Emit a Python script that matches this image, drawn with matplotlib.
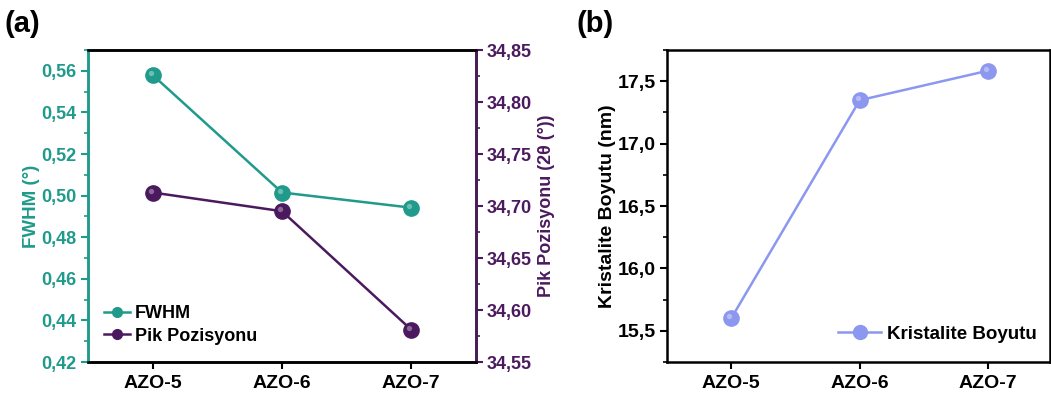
import matplotlib.pyplot as plt
import matplotlib.transforms as mtransforms
from matplotlib.ticker import MultipleLocator, FuncFormatter
from matplotlib.lines import Line2D

plt.rcParams['font.family'] = ['Liberation Sans', 'DejaVu Sans']
plt.rcParams['font.weight'] = 'bold'

samples = ["AZO-5", "AZO-6", "AZO-7"]
fwhm = [0.558, 0.5015, 0.4942]
pik = [34.713, 34.695, 34.581]
kristalite = [15.60, 17.348, 17.585]

teal = "#1f9a8b"
purple = "#4b1a5e"
lav = "#8c97f0"

comma = FuncFormatter(lambda v, _: ("%.2f" % v).replace(".", ","))
comma1 = FuncFormatter(lambda v, _: ("%.1f" % v).replace(".", ","))

fig = plt.figure(figsize=(10.51, 3.94), dpi=100)
ax1 = fig.add_axes([0.0837, 0.0812, 0.3692, 0.7918])
ax2 = ax1.twinx()
ax3 = fig.add_axes([0.6346, 0.0812, 0.3644, 0.7918])
x = list(range(len(samples)))

shift = mtransforms.ScaledTranslation(-2 / 100, 2 / 100, fig.dpi_scale_trans)


def sphere(ax, xs, ys, color, ms=11):
    ax.plot(xs, ys, 'o', color=color, ms=ms, mec=color, zorder=3)
    # small highlight to imitate the shaded ball markers
    ax.plot(xs, ys, 'o', color="white", alpha=0.35, ms=ms * 0.35,
            mec="none", zorder=4, transform=ax.transData + shift)


ax1.plot(x, fwhm, '-', color=teal, lw=1.8, zorder=2)
sphere(ax1, x, fwhm, teal)
ax2.plot(x, pik, '-', color=purple, lw=1.8, zorder=2)
sphere(ax2, x, pik, purple)
ax3.plot(x, kristalite, '-', color=lav, lw=1.8, zorder=2)
sphere(ax3, x, kristalite, lav)

ax1.set_xlim(-0.5, 2.5)
ax1.set_ylim(0.42, 0.57)
ax2.set_ylim(34.55, 34.85)
ax3.set_xlim(-0.5, 2.48)
ax3.set_ylim(15.25, 17.75)

for ax in (ax1, ax3):
    ax.set_xticks(x)
    ax.set_xticklabels(samples, fontsize=14, fontweight='bold')
    ax.tick_params(axis='x', direction='out', length=5, width=1.5, pad=4)

ax1.yaxis.set_major_locator(MultipleLocator(0.02))
ax1.yaxis.set_minor_locator(MultipleLocator(0.01))
ax1.yaxis.set_major_formatter(comma)
ax2.yaxis.set_major_locator(MultipleLocator(0.05))
ax2.yaxis.set_minor_locator(MultipleLocator(0.025))
ax2.yaxis.set_major_formatter(comma)
ax3.yaxis.set_major_locator(MultipleLocator(0.5))
ax3.yaxis.set_minor_locator(MultipleLocator(0.25))
ax3.yaxis.set_major_formatter(comma1)

ax1.tick_params(axis='y', which='major', colors=teal, labelsize=13, length=5, width=1.5, pad=3)
ax1.tick_params(axis='y', which='minor', colors=teal, length=3, width=1.2)
ax2.tick_params(axis='y', which='major', colors=purple, labelsize=13, length=5, width=1.5, pad=3)
ax2.tick_params(axis='y', which='minor', colors=purple, length=3, width=1.2)
ax3.tick_params(axis='y', which='major', labelsize=14, length=5, width=1.5, pad=3)
ax3.tick_params(axis='y', which='minor', length=3, width=1.2)
for lab in ax1.get_yticklabels() + ax2.get_yticklabels() + ax3.get_yticklabels():
    lab.set_fontweight('bold')

for ax in (ax1, ax2, ax3):
    for sp in ax.spines.values():
        sp.set_linewidth(1.8)
ax2.spines['left'].set_color(teal)
ax2.spines['right'].set_color(purple)
ax1.spines['left'].set_color(teal)

ax1.set_ylabel("FWHM (°)", color=teal, fontsize=13.5, fontweight='bold', labelpad=1)
ax2.set_ylabel("Pik Pozisyonu (2θ (°))", color=purple, fontsize=13, fontweight='bold', labelpad=4)
ax3.set_ylabel("Kristalite Boyutu (nm)", fontsize=14, fontweight='bold', labelpad=1)

h1 = Line2D([0], [0], color=teal, lw=1.8, marker='o', ms=7)
h2 = Line2D([0], [0], color=purple, lw=1.8, marker='o', ms=7)
ax1.legend([h1, h2], ["FWHM", "Pik Pozisyonu"], loc='lower left', frameon=False,
           bbox_to_anchor=(0.01, 0.015), handlelength=1.4, handletextpad=0.3,
           borderaxespad=0.3, labelspacing=0.3, prop={'weight': 'bold', 'size': 13})
h3 = Line2D([0], [0], color=lav, lw=1.8, marker='o', ms=10)
ax3.legend([h3], ["Kristalite Boyutu"], loc='lower right', frameon=False,
           bbox_to_anchor=(1.0, 0.02), handlelength=2.3, handletextpad=0.3,
           borderaxespad=0.3, prop={'weight': 'bold', 'size': 13.5})

fig.text(0.004, 0.94, "(a)", fontsize=21, fontweight='bold', va='center')
fig.text(0.549, 0.94, "(b)", fontsize=21, fontweight='bold', va='center')

fig.savefig("out.png", dpi=100)
